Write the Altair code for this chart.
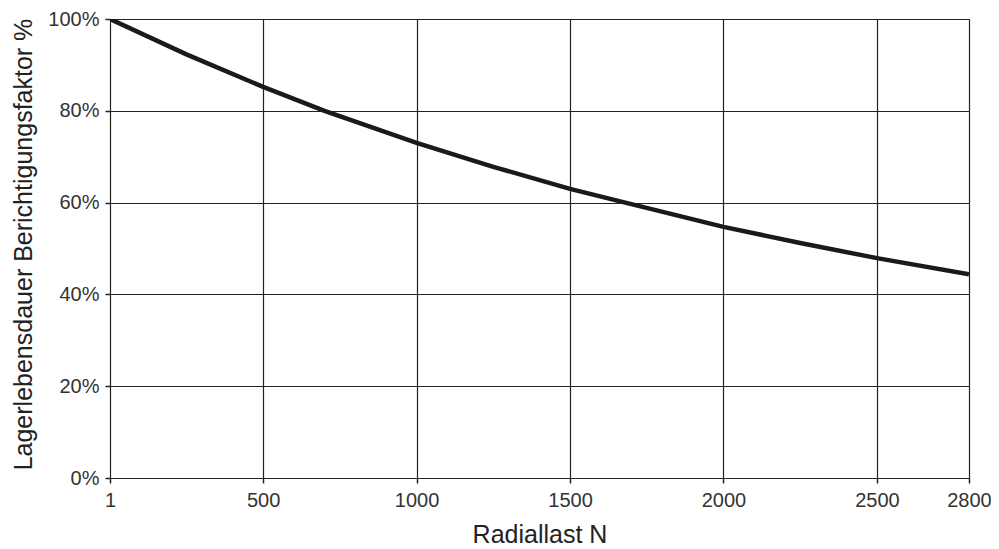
import altair as alt
import pandas as pd

# Radial load (N) and bearing life correction factor (%)
radial_load = [1, 250, 500, 700, 1000, 1250, 1500, 1680, 2000, 2250, 2500, 2800]
life_factor = [100, 92.3, 85.2, 80.0, 73.0, 67.8, 63.0, 60.0, 54.7, 51.2, 47.9, 44.4]

x_ticks = [1, 500, 1000, 1500, 2000, 2500, 2800]
y_ticks = [0, 20, 40, 60, 80, 100]

df = pd.DataFrame({"load": radial_load, "factor": life_factor})

FONT = "Liberation Sans"

line = alt.Chart(df).mark_line(color="#1a1a1a", strokeWidth=4.5, clip=True).encode(
    x=alt.X(
        "load:Q",
        scale=alt.Scale(domain=[1, 2800], nice=False, zero=False),
        axis=alt.Axis(
            title="Radiallast N",
            values=x_ticks,
            format="d",
            grid=True,
            gridColor="#222222",
            gridWidth=1.2,
            domain=False,
            tickColor="#222222",
            tickSize=5,
            tickWidth=1.5,
            labelPadding=7,
            labelFont=FONT,
            labelFontSize=20,
            labelColor="#333333",
            titleFont=FONT,
            titleFontSize=25,
            titleFontWeight="normal",
            titleColor="#222222",
            titlePadding=12,
            labelFlush=False,
            labelOverlap=False,
        ),
    ),
    y=alt.Y(
        "factor:Q",
        scale=alt.Scale(domain=[0, 100], nice=False),
        axis=alt.Axis(
            title="Lagerlebensdauer Berichtigungsfaktor %",
            values=y_ticks,
            labelExpr="datum.value + '%'",
            grid=True,
            gridColor="#222222",
            gridWidth=1.2,
            domain=False,
            tickColor="#222222",
            tickSize=5,
            tickWidth=1.5,
            labelPadding=6,
            labelFont=FONT,
            labelFontSize=20,
            labelColor="#333333",
            titleFont=FONT,
            titleFontSize=25,
            titleFontWeight="normal",
            titleColor="#222222",
            titlePadding=11,
            titleY=225,
            labelFlush=False,
            labelOverlap=False,
        ),
    ),
)

chart = line.properties(
    width=859,
    height=459,
    autosize=alt.AutoSizeParams(type="none"),
    padding={"left": 102, "top": 11, "right": 22, "bottom": 68},
).configure_view(
    stroke="#1a1a1a",
    strokeWidth=2.5,
).configure(background="white")

chart.save("out.html", embed_options={"renderer": "svg", "actions": False})
